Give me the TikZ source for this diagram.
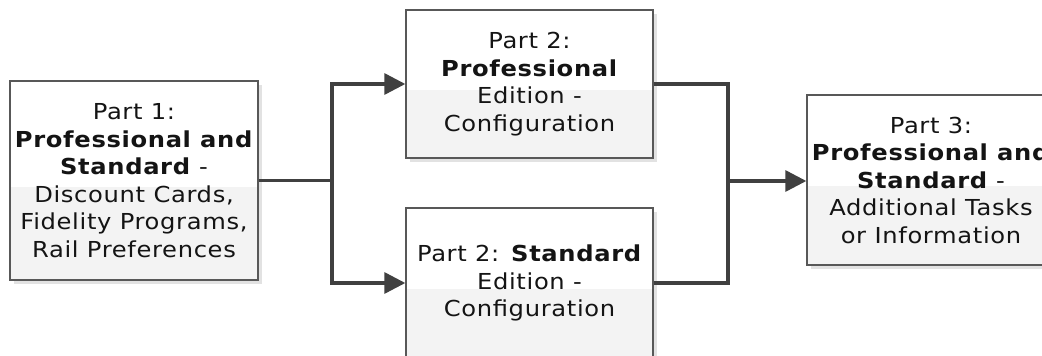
\documentclass[tikz,border=0pt]{standalone}
\usepackage{fontspec}
\setmainfont{DejaVu Sans}[FakeStretch=1.1,LetterSpace=3]
\usetikzlibrary{arrows.meta,shadows}
\definecolor{boxedge}{HTML}{585858}
\definecolor{boxlow}{HTML}{F3F3F3}
\definecolor{shadowc}{HTML}{E2E2E2}
\definecolor{linec}{HTML}{404040}
\definecolor{textc}{HTML}{141414}
\tikzset{
  partbox/.style={draw=boxedge, line width=1.4pt, fill=white, inner sep=0pt,
    align=center, text=textc, font=\fontsize{22}{27.5}\selectfont,
    drop shadow={shadow xshift=4pt, shadow yshift=-4pt, fill=shadowc, opacity=1},
    path picture={\fill[boxlow] ([yshift=-6pt]path picture bounding box.west) rectangle (path picture bounding box.south east);}},
  conn/.style={draw=linec, line width=3.3pt, line join=miter},
  arr/.style={conn, -{Triangle[length=21pt,width=21pt]}}
}
\begin{document}
\begin{tikzpicture}[x=1pt,y=-1pt]
\useasboundingbox (0,0) rectangle (1042,356);
\fill[white] (0,0) rectangle (1042,356);
\clip (0,0) rectangle (1042,356);
\node[partbox, minimum width=248pt, minimum height=199pt] (b1) at (134,180.5)
  {Part 1:\\\textbf{Professional and}\\\textbf{Standard} -\\Discount Cards,\\Fidelity Programs,\\Rail Preferences};
\node[partbox, minimum width=247pt, minimum height=148pt] (b2a) at (529.5,84)
  {Part 2:\\\textbf{Professional}\\Edition -\\Configuration};
\node[partbox, minimum width=247pt, minimum height=150pt] (b2b) at (529.5,283)
  {Part 2: \textbf{Standard}\\Edition -\\Configuration};
\node[partbox, minimum width=248pt, minimum height=170pt] (b3) at (931,180)
  {Part 3:\\\textbf{Professional and}\\\textbf{Standard} -\\Additional Tasks\\or Information};
\coordinate (j1) at (332,181);
\coordinate (j2) at (728,181);
\draw[conn] (b1.east) -- (b1.east -| j1);
\draw[arr] (j1) |- (b2a.west);
\draw[arr] (j1) |- (b2b.west);
\draw[conn] (b2a.east) -| (j2);
\draw[conn] (b2b.east) -| (j2);
\draw[arr] (j2) -- (b3.west |- j2);
\end{tikzpicture}
\end{document}
